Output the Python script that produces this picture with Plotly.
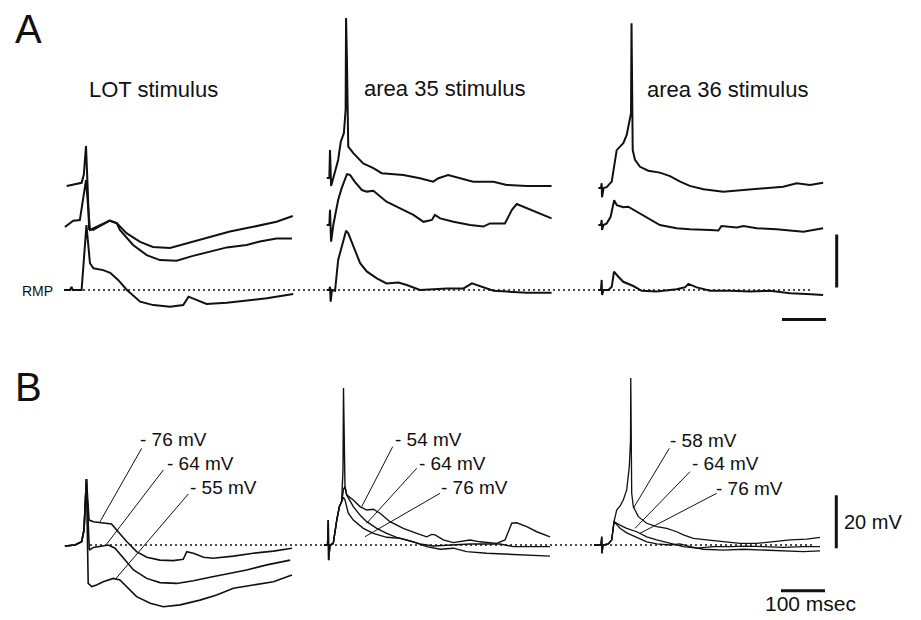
import plotly.graph_objects as go

W, H = 921, 620
PX_PER_MS = 0.44   # 100 ms scale bar = 44 px
PX_PER_MV = 2.65   # 20 mV scale bar = 53 px


def X(px):
    return px / PX_PER_MS


def Y(py):
    return (H - py) / PX_PER_MV


# ---------------- data: time (ms) and membrane potential (mV, relative to trace baseline) ----------------
# A, LOT stimulus
A_LOT_TOP_T = [6, 21, 40, 45, 50, 54, 57, 66, 82, 104, 120, 142, 173, 202, 241, 293, 332, 377, 430, 483, 520]
A_LOT_TOP_V = [0, 0.6, 1.2, 4.2, 15.1, -1.5, -16.2, -16.6, -15.1, -13.1, -14.0, -17.8, -21.1, -23.0, -23.4,
               -21.0, -19.2, -17.2, -15.4, -13.5, -11.3]
A_LOT_MID_T = [2, 21, 36, 50, 59, 74, 104, 120, 127, 157, 188, 218, 256, 293, 332, 370, 415, 445, 483, 518]
A_LOT_MID_V = [0, 2.4, 2.6, 17.7, -1.1, 0.1, 2.4, 1.4, -1.1, -6.8, -10.6, -12.5, -12.7, -10.9, -9.3, -7.7,
               -6.8, -5.5, -4.3, -4.3]
A_LOT_BOT_T = [0, 14, 17, 20, 40, 51, 59, 67, 89, 105, 123, 143, 173, 203, 241, 271, 283, 302, 324, 370, 415,
               461, 521]
A_LOT_BOT_V = [0, 0, 1.2, 0, 0, 24.5, 10.1, 8.2, 7.5, 6.5, 3.8, 0, -4.4, -5.7, -6.3, -5.7, -2.5, -3.8, -5.3,
               -4.8, -4.0, -3.1, -1.5]

# A, area 35 stimulus
A_35_TOP_T = [0, 6, 7.5, 10, 15, 26, 32, 39, 43, 44, 46, 49, 61, 83, 106, 125, 174, 212, 242, 254, 276, 303,
              333, 379, 409, 455, 511]
A_35_TOP_V = [0, 0, 10.6, -3.0, 0, 6.8, 13.7, 16.9, 25.7, 60.4, 44.5, 11.8, 9.3, 5.5, 3.7, 1.8, 1.1, -0.1,
              -1.4, -0.1, 1.1, -0.1, -1.4, -1.4, -2.6, -3.0, -3.0]
A_35_MID_T = [0, 6, 7.5, 10, 15, 26, 34, 46, 53, 64, 80, 91, 106, 117, 136, 167, 197, 220, 239, 246, 258, 288,
              326, 356, 371, 405, 421, 432, 455, 485, 511]
A_35_MID_V = [0, 0, 5.7, -6.3, 0, 9.4, 13.9, 19.2, 18.9, 16.3, 13.2, 12.6, 12.9, 11.3, 8.8, 6.3, 3.8, 1.2,
              1.9, 3.8, 2.5, 1.2, 0, -0.6, 0.6, 0.6, 5.7, 7.9, 6.3, 4.4, 2.5]
A_35_BOT_T = [0, 6, 7.5, 9, 12, 19, 26, 34, 44, 49, 61, 76, 91, 114, 136, 163, 182, 212, 273, 311, 330, 348,
              379, 409, 455, 511]
A_35_BOT_V = [0, 0, 1.2, -4.4, 0, -0.3, 11.3, 16.3, 22.4, 21.4, 16.3, 10.1, 7.0, 4.4, 2.5, 2.8, 1.9, 0, 0.6,
              0.6, 2.5, 1.5, -0.3, -0.6, -1.0, -1.0]

# A, area 36 stimulus
A_36_TOP_T = [0, 6, 7.7, 8.4, 12, 19, 30.5, 35.7, 41.8, 49.3, 56.8, 64.6, 70.5, 74.3, 75.5, 77, 78.2, 83.4,
              94.8, 113.6, 140, 163, 186, 208, 239, 284, 322, 375, 420, 451, 481, 511]
A_36_TOP_V = [0, 0, 1.8, -3.5, 0, 0.3, 2.4, 8.0, 14.3, 15.6, 16.9, 20.0, 24.4, 28.2, 62.2, 40.8, 14.3, 10.6,
              8.0, 6.5, 5.8, 4.5, 2.4, 0.8, -0.5, -1.4, -0.8, -0.1, 0.5, 1.8, 1.1, 2.0]
A_36_MID_T = [0, 6, 7.7, 8.4, 12, 19, 28, 36, 42, 57, 68, 87, 114, 140, 178, 208, 254, 273, 280, 315, 330,
              360, 405, 466, 511]
A_36_MID_V = [0, 0, 1.9, -1.9, 0, 0.6, 3.1, 9.4, 7.5, 6.7, 6.9, 5.0, 2.5, 0, -1.2, -1.6, -1.9, -2.1, -0.4,
              -0.9, -0.4, -1.2, -1.6, -2.5, -1.2]
A_36_BOT_T = [0, 6, 7.7, 8.4, 12, 23, 30.5, 35.7, 45.5, 56.8, 79.6, 98.6, 132.7, 178, 197, 204.6, 223.7, 254,
              300, 345, 390, 436, 474, 511]
A_36_BOT_V = [0, 0, 3.8, -1.9, 0, 0, 1.2, 6.9, 5.0, 3.1, 1.5, -0.3, -0.6, 0.3, 1.0, 2.3, 1.0, -0.3, -0.3,
              -0.6, -0.3, -1.2, -1.5, -1.9]

# B, LOT stimulus (holding potentials -76, -64, -55 mV)
B_LOT_PRE_T = [2, 25, 40, 45.5, 51]
B_LOT_PRE_V = [-0.4, 0, 1.2, 5.7, 24.9]
B_LOT_76_T = [57, 67, 89, 108, 123, 143, 165, 188, 218, 248, 271, 279, 294, 317, 339, 385, 430, 476, 518]
B_LOT_76_V = [9.4, 8.8, 8.4, 7.9, 5.0, 1.2, -2.5, -4.6, -5.7, -5.9, -5.4, -2.5, -3.1, -4.6, -5.0, -4.2, -3.1,
              -2.3, -1.2]
B_LOT_64_T = [57.5, 67, 82, 101, 116, 135, 158, 188, 218, 256, 294, 332, 370, 415, 461, 514]
B_LOT_64_V = [-1.9, -0.9, -0.4, 0, -1.2, -5.0, -9.4, -12.6, -14.2, -14.5, -13.5, -12.2, -10.9, -9.4, -7.5,
              -5.7]
B_LOT_55_T = [55, 63, 74, 89, 112, 127, 142.5, 165, 196, 226, 264, 309, 347, 385, 430, 476, 518]
B_LOT_55_V = [-14.5, -15.7, -15.1, -13.9, -12.6, -13.2, -15.7, -19.5, -22.0, -23.3, -22.6, -20.8, -18.9,
              -16.3, -15.1, -13.9, -11.3]

# B, area 35 stimulus (holding potentials -54, -64, -76 mV)
B_35_PRE_T = [0, 8, 9.8, 10.5, 13.6, 21, 29, 35, 40]
B_35_PRE_V = [0, 0, 9.4, -5.7, 0, 0.6, 9.4, 14.5, 16.3]
B_35_54_T = [43.2, 44.3, 46.6, 47.7, 51.6, 66.6, 81.8, 97.1, 112.1, 127.3, 150, 180.2, 210.7, 233.4, 244.8,
             252.3, 271.2, 293.9, 331.9, 354.6, 392.5, 411.4, 426.6, 438, 460.7, 483.5, 513.7]
B_35_54_V = [28.3, 59.2, 24.5, 22.0, 18.9, 17.0, 14.5, 13.2, 13.5, 12.0, 8.8, 6.3, 4.4, 3.1, 4.0, 3.8, 1.9,
             0.9, 1.9, 1.2, 0.6, 1.9, 8.2, 8.4, 6.9, 5.0, 3.1]
B_35_64_T = [44.5, 47.7, 51.6, 66.6, 81.8, 97.1, 119.8, 142.5, 165.2, 188, 218.2, 248.4, 293.9, 331.9, 369.8,
             400, 430.3, 475.7, 513.7]
B_35_64_V = [21, 22.0, 18.9, 14.5, 11.3, 8.8, 6.3, 4.4, 2.9, 1.9, 0.4, -0.4, 0, 0.4, 0.4, 0.4, -0.6, -0.6,
             -0.6]
B_35_76_T = [44, 47.7, 55.2, 66.6, 89.3, 112.1, 142.5, 172.7, 203, 233.4, 263.7, 293.9, 324.2, 369.8, 415.3,
             460.7, 513.7]
B_35_76_V = [18, 17.0, 12.0, 9.4, 6.3, 4.4, 2.9, 2.5, 1.2, -0.6, -1.6, -1.2, -2.5, -3.1, -3.4, -3.8, -4.2]

# B, area 36 stimulus (holding potentials -58, -64, -76 mV)
B_36_PRE_T = [0, 16, 17.5, 18.2, 20.5, 32.5, 40.2, 43.9, 45.5]
B_36_PRE_V = [0, 0, 3.1, -3.1, 0, 0.4, 1.9, 8.2, 8.8]
B_36_58_T = [51.6, 59.1, 66.6, 74.3, 80.2, 83, 83.6, 84.8, 85.7, 89.3, 100.7, 119.8, 142.5, 165.2, 188, 203,
             225.7, 256.2, 293.9, 331.9, 369.8, 407.6, 445.5, 483.5, 513.7]
B_36_58_V = [13.2, 14.7, 17.0, 20.8, 29.5, 39.6, 63.0, 39.6, 19.5, 14.5, 10.7, 8.2, 6.9, 6.3, 5.0, 3.8, 2.5,
             1.9, 1.2, 0.6, 0.6, 1.2, 1.9, 2.2, 2.9]
B_36_64_T = [59.1, 74.3, 97.1, 119.8, 142.5, 172.7, 203, 233.4, 271.2, 309.1, 347.1, 384.8, 430.3, 475.7,
             513.7]
B_36_64_V = [7.5, 6.3, 5.0, 3.1, 1.9, 0.6, -0.6, -1.2, -0.6, -0.6, -0.4, -0.6, -0.9, -0.6, -0.6]
B_36_76_T = [59.1, 74.3, 97.1, 119.8, 142.5, 172.7, 195.5, 218.2, 248.4, 293.9, 339.4, 384.8, 430.3, 475.7,
             513.7]
B_36_76_V = [6.3, 4.6, 2.9, 1.2, 0.4, 0, 0.4, -0.6, -1.6, -1.9, -1.6, -1.9, -2.2, -2.5, -2.2]

COLUMN_TITLES = ["LOT stimulus", "area 35 stimulus", "area 36 stimulus"]
B_LABELS = [["- 76 mV", "- 64 mV", "- 55 mV"],
            ["- 54 mV", "- 64 mV", "- 76 mV"],
            ["- 58 mV", "- 64 mV", "- 76 mV"]]
SCALE_MV = 20
SCALE_MS = 100

# ---------------- layout of panels (pixel origins) ----------------
INK = "#111111"
FONT = "Liberation Sans, Arial, Helvetica, sans-serif"

traces = [
    # (t, v, x-origin px, baseline px, width)
    (A_LOT_TOP_T, A_LOT_TOP_V, 64, 186, 2.0),
    (A_LOT_MID_T, A_LOT_MID_V, 64, 227, 2.0),
    (A_LOT_BOT_T, A_LOT_BOT_V, 64, 290, 2.0),
    (A_35_TOP_T, A_35_TOP_V, 326.7, 178, 2.0),
    (A_35_MID_T, A_35_MID_V, 326.7, 225, 2.0),
    (A_35_BOT_T, A_35_BOT_V, 326.7, 290, 2.0),
    (A_36_TOP_T, A_36_TOP_V, 598.3, 188, 2.0),
    (A_36_MID_T, A_36_MID_V, 598.3, 225, 2.0),
    (A_36_BOT_T, A_36_BOT_V, 598.3, 290, 2.0),
    (B_LOT_PRE_T + B_LOT_76_T, B_LOT_PRE_V + B_LOT_76_V, 64, 545, 1.6),
    (B_LOT_PRE_T + B_LOT_64_T, B_LOT_PRE_V + B_LOT_64_V, 64, 545, 1.6),
    (B_LOT_PRE_T + B_LOT_55_T, B_LOT_PRE_V + B_LOT_55_V, 64, 545, 1.6),
    (B_35_PRE_T + B_35_54_T, B_35_PRE_V + B_35_54_V, 324, 545, 1.4),
    (B_35_PRE_T + B_35_64_T, B_35_PRE_V + B_35_64_V, 324, 545, 1.4),
    (B_35_PRE_T + B_35_76_T, B_35_PRE_V + B_35_76_V, 324, 545, 1.4),
    (B_36_PRE_T + B_36_58_T, B_36_PRE_V + B_36_58_V, 594, 545, 1.3),
    (B_36_PRE_T + B_36_64_T, B_36_PRE_V + B_36_64_V, 594, 545, 1.3),
    (B_36_PRE_T + B_36_76_T, B_36_PRE_V + B_36_76_V, 594, 545, 1.3),
]

fig = go.Figure()
for t, v, x0, base, w in traces:
    fig.add_trace(go.Scatter(
        x=[X(x0) + ti for ti in t],
        y=[Y(base) + vi for vi in v],
        mode="lines", line=dict(color=INK, width=w),
        hoverinfo="skip", showlegend=False))

# scale bars (20 mV, 100 ms) drawn in data units
fig.add_trace(go.Scatter(x=[X(836.7)] * 2, y=[Y(287.5), Y(287.5) + SCALE_MV], mode="lines",
                         line=dict(color=INK, width=3), hoverinfo="skip", showlegend=False))
fig.add_trace(go.Scatter(x=[X(782), X(782) + SCALE_MS], y=[Y(319.5)] * 2, mode="lines",
                         line=dict(color=INK, width=3), hoverinfo="skip", showlegend=False))
fig.add_trace(go.Scatter(x=[X(836.3)] * 2, y=[Y(548.3), Y(548.3) + SCALE_MV], mode="lines",
                         line=dict(color=INK, width=3), hoverinfo="skip", showlegend=False))
fig.add_trace(go.Scatter(x=[X(781), X(781) + SCALE_MS], y=[Y(590.7)] * 2, mode="lines",
                         line=dict(color=INK, width=3), hoverinfo="skip", showlegend=False))

shapes = []
# resting potential reference lines
shapes.append(dict(type="line", xref="x", yref="y", x0=X(68), x1=X(812), y0=Y(290), y1=Y(290),
                   line=dict(color=INK, width=1.3, dash="2px,3px")))
shapes.append(dict(type="line", xref="x", yref="y", x0=X(90), x1=X(815), y0=Y(545), y1=Y(545),
                   line=dict(color=INK, width=1.3, dash="2px,3px")))

# leader lines for B labels: (x_text, y_text) -> (x_trace, y_trace) in px
leaders = [
    (141.7, 448.3, 100, 521.7), (163.3, 470, 106.7, 544), (188.3, 494, 115.5, 579),
    (392.7, 446.7, 361.7, 506.7), (416.7, 468.3, 366.7, 523.3), (440, 493.3, 365, 536.7),
    (669.3, 448.3, 633.3, 508.3), (690, 471.7, 635, 528.3), (716.7, 493.3, 640, 533.3),
]
for xa, ya, xb, yb in leaders:
    shapes.append(dict(type="line", xref="x", yref="y", x0=X(xa), y0=Y(ya), x1=X(xb), y1=Y(yb),
                       line=dict(color=INK, width=1)))

annotations = []


def txt(s, x, y, size, anchor="center"):
    annotations.append(dict(text=s, x=x / W, y=1 - y / H, xref="paper", yref="paper", showarrow=False,
                            xanchor=anchor, yanchor="middle", font=dict(family=FONT, size=size, color=INK)))


txt("A", 28, 29, 40)
txt("B", 28, 387, 40)
txt(COLUMN_TITLES[0], 153.5, 90, 22)
txt(COLUMN_TITLES[1], 444, 88.5, 22)
txt(COLUMN_TITLES[2], 727.5, 90, 22)
txt("RMP", 37.5, 290.5, 14)
label_pos = [[(138, 439.5), (165, 463.5), (188, 487)],
             [(393, 439.5), (417, 463.5), (439, 487.5)],
             [(668, 440), (690, 463.5), (714, 488.5)]]
for col in range(3):
    for k in range(3):
        lx, ly = label_pos[col][k]
        txt(B_LABELS[col][k], lx, ly, 19, anchor="left")
txt(f"{SCALE_MV} mV", 842, 522, 20, anchor="left")
txt(f"{SCALE_MS} msec", 810, 603, 21)

fig.update_layout(
    width=W, height=H, margin=dict(l=0, r=0, t=0, b=0),
    paper_bgcolor="white", plot_bgcolor="white",
    xaxis=dict(range=[0, X(W)], visible=False, fixedrange=True),
    yaxis=dict(range=[0, Y(0)], visible=False, fixedrange=True),
    shapes=shapes, annotations=annotations, showlegend=False,
)
fig.write_html("out.html", post_script="document.body.style.margin='0';",
               config={"displayModeBar": False})
